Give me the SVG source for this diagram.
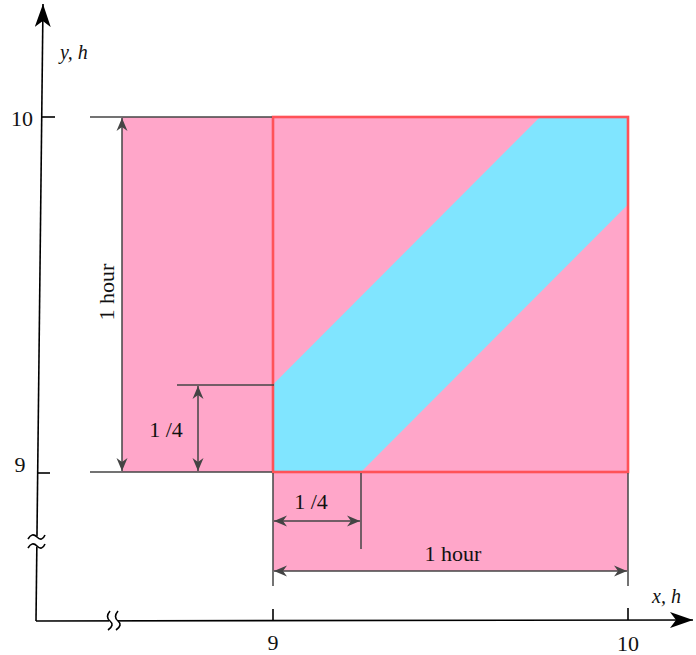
<svg xmlns="http://www.w3.org/2000/svg" width="696" height="655" viewBox="0 0 696 655">
<style>
.t{font-family:"Liberation Serif","Times New Roman",serif;font-size:22px;fill:#111}
.i{font-style:italic;font-size:20px}
.ext{stroke:#444;stroke-width:1.5;fill:none}
.dim{stroke:#444;stroke-width:1.5;fill:none;marker-start:url(#da);marker-end:url(#da)}
.ax{stroke:#000;stroke-width:1.6;fill:none}
</style>
<defs>
<marker id="da" markerUnits="userSpaceOnUse" markerWidth="14" markerHeight="12" viewBox="0 0 14 12" refX="13" refY="6" orient="auto-start-reverse">
<path d="M0,0.5 L13,6 L0,11.5 L4,6 Z" fill="#444"/>
</marker>
<marker id="aa" markerUnits="userSpaceOnUse" markerWidth="24" markerHeight="16" viewBox="0 0 24 16" refX="23" refY="8" orient="auto">
<path d="M0,0 L23,8 L0,16 L6,8 Z" fill="#000"/>
</marker>
</defs>
<g id="regions">
<rect x="122" y="117" width="151" height="355" fill="#FFA6C9"/>
<rect x="273" y="472" width="355" height="99" fill="#FFA6C9"/>
<rect id="square-fill" x="273" y="117" width="355" height="355" fill="#FFA6C9"/>
<polygon id="band" points="273,384.5 540,117 628,117 628,204.5 361,472 273,472" fill="#80E5FF"/>
<rect id="square" x="273" y="117" width="355" height="355" fill="none" stroke="#FF5258" stroke-width="2.6"/>
</g>
<g id="connectors">
<line class="ext" x1="90" y1="117" x2="272" y2="117"/>
<line class="ext" x1="90" y1="472" x2="272" y2="472"/>
<line class="ext" x1="177" y1="385" x2="274" y2="385"/>
<line class="ext" x1="273" y1="473" x2="273" y2="586"/>
<line class="ext" x1="628" y1="473" x2="628" y2="586"/>
<line class="ext" x1="361" y1="473" x2="361" y2="549"/>
<line class="dim" x1="122" y1="118" x2="122" y2="471"/>
<line class="dim" x1="198" y1="386" x2="198" y2="471"/>
<line class="dim" x1="274" y1="521" x2="360" y2="521"/>
<line class="dim" x1="274" y1="571" x2="627" y2="571"/>
</g>
<g id="axes">
<line class="ax" x1="36" y1="621" x2="43" y2="4" marker-end="url(#aa)"/>
<line class="ax" x1="36" y1="621" x2="693" y2="620" marker-end="url(#aa)"/>
<line class="ax" x1="42" y1="117" x2="55" y2="117"/>
<line class="ax" x1="38" y1="473" x2="50" y2="473"/>
<line class="ax" x1="273" y1="609" x2="273" y2="621"/>
<line class="ax" x1="628" y1="608" x2="628" y2="620"/>
<polygon points="27,538 46,535 46,545 27,548" fill="#fff"/>
<path class="ax" d="M28,539 Q32,532 37,537 T45,535"/>
<path class="ax" d="M28,548 Q32,541 37,546 T45,544"/>
<polygon points="109,611 118,611 118,631 109,631" fill="#fff"/>
<path class="ax" d="M110,611 Q105,617 110,621 T108,630"/>
<path class="ax" d="M118,611 Q113,617 118,621 T116,630"/>
</g>
<g id="labels">
<text class="t i" x="60" y="59">y, h</text>
<text class="t i" x="652" y="603">x, h</text>
<text class="t" x="33" y="126" text-anchor="end">10</text>
<text class="t" x="20" y="472" text-anchor="middle">9</text>
<text class="t" x="273" y="650" text-anchor="middle">9</text>
<text class="t" x="628" y="651" text-anchor="middle">10</text>
<text class="t" transform="translate(114,292) rotate(-90)" text-anchor="middle">1 hour</text>
<text class="t" x="453" y="561" text-anchor="middle">1 hour</text>
<text class="t" x="166" y="437" text-anchor="middle">1 /4</text>
<text class="t" x="311" y="509" text-anchor="middle">1 /4</text>
</g>
</svg>
